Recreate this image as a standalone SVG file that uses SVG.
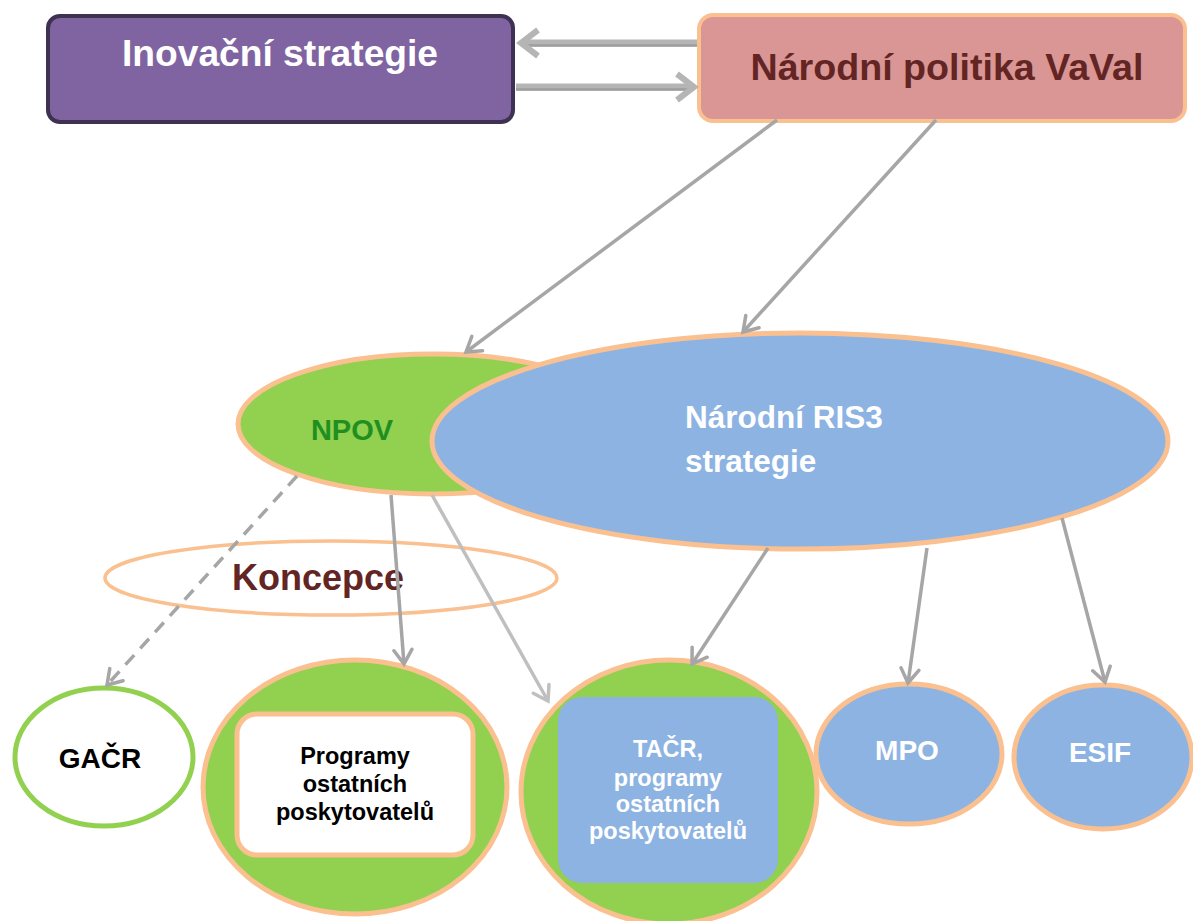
<svg xmlns="http://www.w3.org/2000/svg" width="1193" height="921" viewBox="0 0 1193 921">
<defs>
<style>
text{font-family:"Liberation Sans",Arial,sans-serif;font-weight:bold;}
.w{fill:#FFFFFF;}
.k{fill:#000000;}
.c{text-anchor:middle;}
.ob{stroke:#FAC090;stroke-width:5;}
.g{fill:#92D050;}
.b{fill:#8DB3E2;}
.con{fill:none;stroke:#A6A6A6;stroke-width:3.5;marker-end:url(#ah);}
.big{fill:none;stroke:#B5B5B5;stroke-width:7;}
.bigd{fill:none;stroke:#9E9E9E;stroke-width:2.5;}
.bh{fill:none;stroke:#B5B5B5;stroke-width:6;stroke-linejoin:miter;}
</style>
<marker id="ah" viewBox="-16 -11 19 22" refX="0" refY="0" markerWidth="19" markerHeight="22" markerUnits="userSpaceOnUse" orient="auto">
<path d="M-14,-9 L0,0 L-14,9" fill="none" stroke="#A6A6A6" stroke-width="3.5" stroke-linecap="round" stroke-linejoin="miter"/>
</marker>
<marker id="ahl" viewBox="-16 -11 19 22" refX="0" refY="0" markerWidth="19" markerHeight="22" markerUnits="userSpaceOnUse" orient="auto">
<path d="M-14,-9 L0,0 L-14,9" fill="none" stroke="#BFBFBF" stroke-width="3.5" stroke-linecap="round"/>
</marker>
</defs>

<g id="inovacni-strategie">
<rect x="48" y="16" width="465" height="106" rx="12" fill="#8064A2" stroke="#3F3151" stroke-width="4"/>
<text x="280" y="66" class="w c" font-size="37" textLength="316" lengthAdjust="spacingAndGlyphs">Inovační strategie</text>
</g>

<g id="narodni-politika">
<rect x="699" y="15" width="486" height="106" rx="14" fill="#D99694" stroke="#FAC090" stroke-width="4"/>
<text x="947" y="80" class="c" font-size="37" fill="#632523" textLength="393" lengthAdjust="spacingAndGlyphs">Národní politika VaVal</text>
</g>

<g id="npov">
<ellipse cx="433" cy="424" rx="195" ry="70" class="g ob"/>
<text x="352" y="440" class="c" font-size="29" fill="#1F8F1F">NPOV</text>
</g>

<g id="ris3">
<ellipse cx="800" cy="441" rx="368" ry="108" class="b ob"/>
<text x="685" y="428" class="w" font-size="31.5">Národní RIS3</text>
<text x="685" y="472" class="w" font-size="31.5">strategie</text>
</g>

<g id="koncepce">
<ellipse cx="331" cy="578" rx="226" ry="37" fill="none" stroke="#FAC090" stroke-width="3.5"/>
<text x="318" y="590" class="c" font-size="36" fill="#632523">Koncepce</text>
</g>

<g id="gacr">
<ellipse cx="104" cy="757" rx="89" ry="69" fill="#FFFFFF" stroke="#92D050" stroke-width="5"/>
<text x="100" y="768" class="k c" font-size="28">GAČR</text>
</g>

<g id="programy">
<ellipse cx="355" cy="787" rx="152" ry="127" class="g ob"/>
<rect x="237" y="714" width="236" height="141" rx="20" fill="#FFFFFF" class="ob"/>
<text class="k c" font-size="23.5"><tspan x="355" y="764">Programy</tspan><tspan x="355" y="792">ostatních</tspan><tspan x="355" y="820">poskytovatelů</tspan></text>
</g>

<g id="tacr">
<ellipse cx="669" cy="792" rx="148" ry="132" class="g ob"/>
<rect x="558" y="697" width="220" height="186" rx="24" class="b"/>
<text class="w c" font-size="23.5"><tspan x="668" y="757">TAČR,</tspan><tspan x="668" y="786">programy</tspan><tspan x="668" y="812">ostatních</tspan><tspan x="668" y="839">poskytovatelů</tspan></text>
</g>

<g id="mpo">
<ellipse cx="909" cy="754" rx="93" ry="70" class="b ob"/>
<text x="907" y="760" class="w c" font-size="28">MPO</text>
</g>

<g id="esif">
<ellipse cx="1103" cy="757" rx="89" ry="72" class="b ob"/>
<text x="1100" y="762" class="w c" font-size="28">ESIF</text>
</g>

<g id="connectors">
<line x1="697" y1="43" x2="521" y2="43" class="big"/>
<line x1="697" y1="45.5" x2="523" y2="45.5" class="bigd"/>
<polyline points="538,30 521,43 538,56" class="bh"/>
<line x1="516" y1="87" x2="693" y2="87" class="big"/>
<line x1="516" y1="89.5" x2="691" y2="89.5" class="bigd"/>
<polyline points="677,74 694,87 677,100" class="bh"/>
<line x1="777" y1="120" x2="466" y2="352" class="con"/>
<line x1="936" y1="120" x2="743" y2="332" class="con"/>
<line x1="297" y1="476" x2="107" y2="685" class="con" stroke-dasharray="13 9"/>
<line x1="391" y1="495" x2="404" y2="664" class="con"/>
<line x1="432" y1="495" x2="548" y2="701" fill="none" stroke="#BFBFBF" stroke-width="3.5" marker-end="url(#ahl)"/>
<line x1="768" y1="548" x2="692" y2="664" class="con"/>
<line x1="927" y1="548" x2="908" y2="683" class="con"/>
<line x1="1062" y1="518" x2="1105" y2="682" class="con"/>
</g>
</svg>
